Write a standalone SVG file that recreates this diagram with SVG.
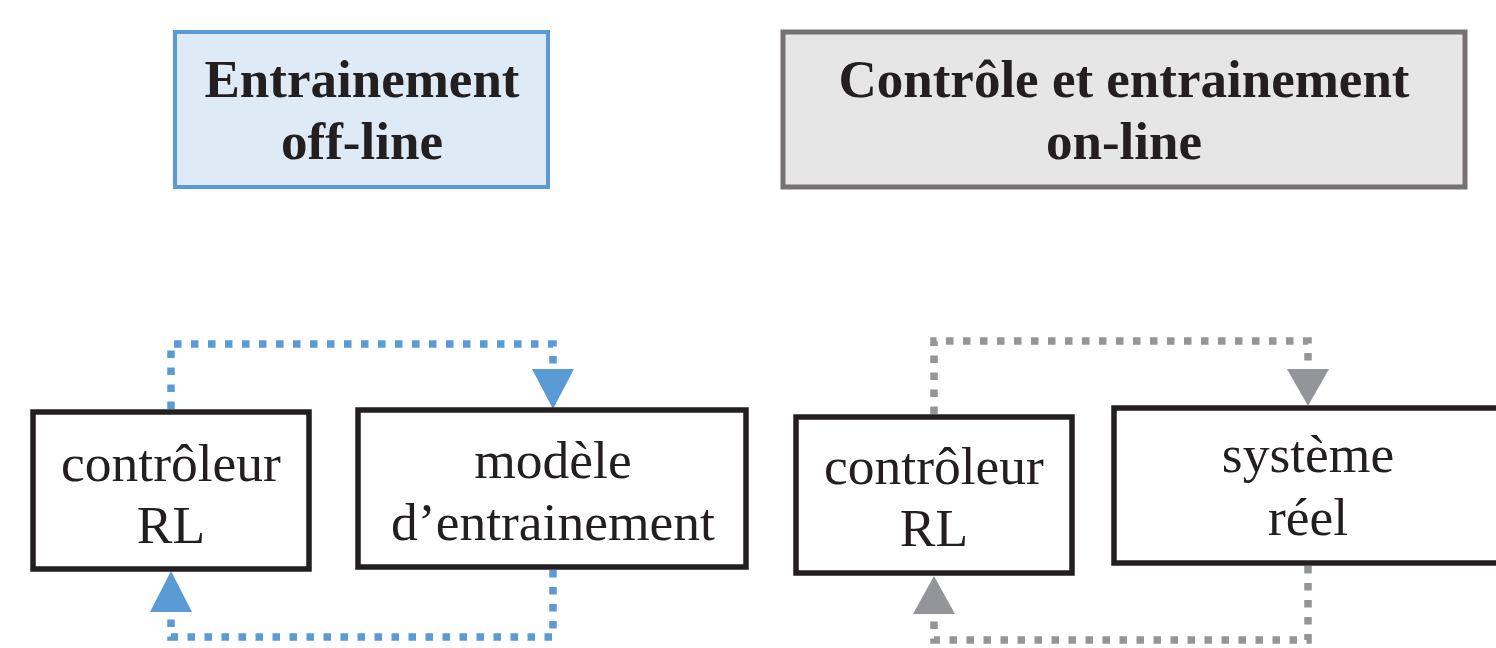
<svg xmlns="http://www.w3.org/2000/svg" width="1496" height="648" viewBox="0 0 1496 648">
  <defs>
    <style>
      .hdr-blue { fill: #DEEAF6; stroke: #5B9BD5; stroke-width: 4; }
      .hdr-gray { fill: #E6E6E6; stroke: #767171; stroke-width: 5; }
      .box { fill: #FFFFFF; stroke: #231F20; stroke-width: 5.5; }
      .hdr-text { font-family: "Liberation Serif", "Times New Roman", serif; font-weight: bold; font-size: 53px; fill: #231F20; text-anchor: middle; }
      .node-text { font-family: "Liberation Serif", "Times New Roman", serif; font-size: 53.5px; fill: #231F20; text-anchor: middle; }
      .dot-blue { fill: none; stroke: #5B9BD5; stroke-width: 7.5; stroke-dasharray: 7.5 9.5; }
      .dot-gray { fill: none; stroke: #939598; stroke-width: 7.5; stroke-dasharray: 7.5 9.5; }
      .head-blue { fill: #5B9BD5; }
      .head-gray { fill: #939598; }
    </style>
  </defs>

  <rect width="1496" height="648" fill="#FFFFFF"/>

  <!-- section titles -->
  <g id="title-offline">
    <rect class="hdr-blue" x="175" y="32" width="373" height="155"/>
    <text class="hdr-text" x="362" y="97">Entrainement</text>
    <text class="hdr-text" x="362" y="159">off-line</text>
  </g>
  <g id="title-online">
    <rect class="hdr-gray" x="783" y="32" width="682" height="155"/>
    <text class="hdr-text" x="1124" y="97">Contrôle et entrainement</text>
    <text class="hdr-text" x="1124" y="159">on-line</text>
  </g>

  <!-- connectors -->
  <g id="connectors">
    <!-- off-line loop -->
    <path class="dot-blue" d="M171 409 V344 H553 V372"/>
    <polygon class="head-blue" points="532,369 574,369 553,409"/>
    <path class="dot-blue" d="M553 570 V637 H171 V614"/>
    <polygon class="head-blue" points="150,612 192,612 171,571"/>
    <!-- on-line loop -->
    <path class="dot-gray" d="M934 414 V341 H1308 V372"/>
    <polygon class="head-gray" points="1287,369 1329,369 1308,406"/>
    <path class="dot-gray" d="M1308 566 V640 H934 V616"/>
    <polygon class="head-gray" points="913,614 955,614 934,576"/>
  </g>

  <!-- off-line blocks -->
  <g id="node-controleur-offline">
    <rect class="box" x="33" y="412" width="276" height="157"/>
    <text class="node-text" x="171" y="481">contrôleur</text>
    <text class="node-text" x="171" y="543">RL</text>
  </g>
  <g id="node-modele">
    <rect class="box" x="358" y="410" width="388" height="157"/>
    <text class="node-text" x="553" y="478">modèle</text>
    <text class="node-text" x="553" y="540">d’entrainement</text>
  </g>

  <!-- on-line blocks -->
  <g id="node-controleur-online">
    <rect class="box" x="796" y="417" width="276" height="156"/>
    <text class="node-text" x="934" y="484">contrôleur</text>
    <text class="node-text" x="934" y="546">RL</text>
  </g>
  <g id="node-systeme">
    <rect class="box" x="1114" y="408" width="392" height="155"/>
    <text class="node-text" x="1308" y="472">système</text>
    <text class="node-text" x="1308" y="535">réel</text>
  </g>
</svg>
